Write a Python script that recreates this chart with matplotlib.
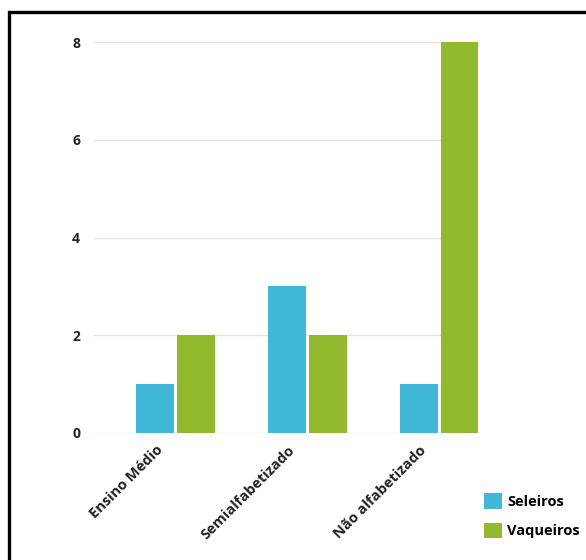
import matplotlib
matplotlib.use("Agg")
import matplotlib.pyplot as plt
import matplotlib.transforms as mtrans
import numpy as np
from matplotlib.patches import Rectangle

categories = ["Ensino Médio", "Semialfabetizado", "Não alfabetizado"]
seleiros = [1, 3, 1]
vaqueiros = [2, 2, 8]
series_names = ["Seleiros", "Vaqueiros"]
colors = ["#41B8D7", "#93B92F"]
yticks = [0, 2, 4, 6, 8]

plt.rcParams['font.family'] = ['Open Sans', 'DejaVu Sans']
plt.rcParams['font.weight'] = 'bold'

fig = plt.figure(figsize=(5.86, 5.6), dpi=100)
ax = fig.add_axes([94/586, 1-433/560, (478-94)/586, (433-42)/560])

x = np.arange(len(categories))
w = 0.288
off = 0.155
ax.bar(x - off, seleiros, w, color=colors[0], label=series_names[0], zorder=3)
ax.bar(x + off, vaqueiros, w, color=colors[1], label=series_names[1], zorder=3)

ax.set_xlim(-0.617, 2.295)
ax.set_ylim(0, 8)
ax.set_yticks(yticks)
ax.set_yticklabels([str(t) for t in yticks], fontsize=10, fontweight='bold', color='#222222')
ax.yaxis.grid(True, color='#e2e2e2', linewidth=1, zorder=0)
ax.set_xticks(x)
ax.set_xticklabels([''] * len(categories))
offset = mtrans.ScaledTranslation(-15/100, -15/100, fig.dpi_scale_trans)
for xi, cat in zip(x, categories):
    ax.text(xi, 0, cat, transform=ax.get_xaxis_transform() + offset,
            rotation=45, ha='right', va='center', rotation_mode='anchor',
            fontsize=10.5, fontweight='bold', color='#222222', clip_on=False)
ax.tick_params(axis='both', length=0)
ax.tick_params(axis='y', pad=10)
for s in ax.spines.values():
    s.set_visible(False)

leg = fig.legend(loc='upper left', bbox_to_anchor=(471/586, 1-480/560), frameon=False,
                 prop={'family': ['Open Sans', 'DejaVu Sans'], 'weight': 'bold', 'size': 10.5},
                 handlelength=1.25, handleheight=1.25, handletextpad=0.35, labelspacing=0.95)

fig.patches.append(Rectangle((9/586, -0.05), 1.1, 1 - 12/560 + 0.05, transform=fig.transFigure,
                             fill=False, edgecolor='black', linewidth=2.4, zorder=10))

fig.savefig("out.png", dpi=100)
